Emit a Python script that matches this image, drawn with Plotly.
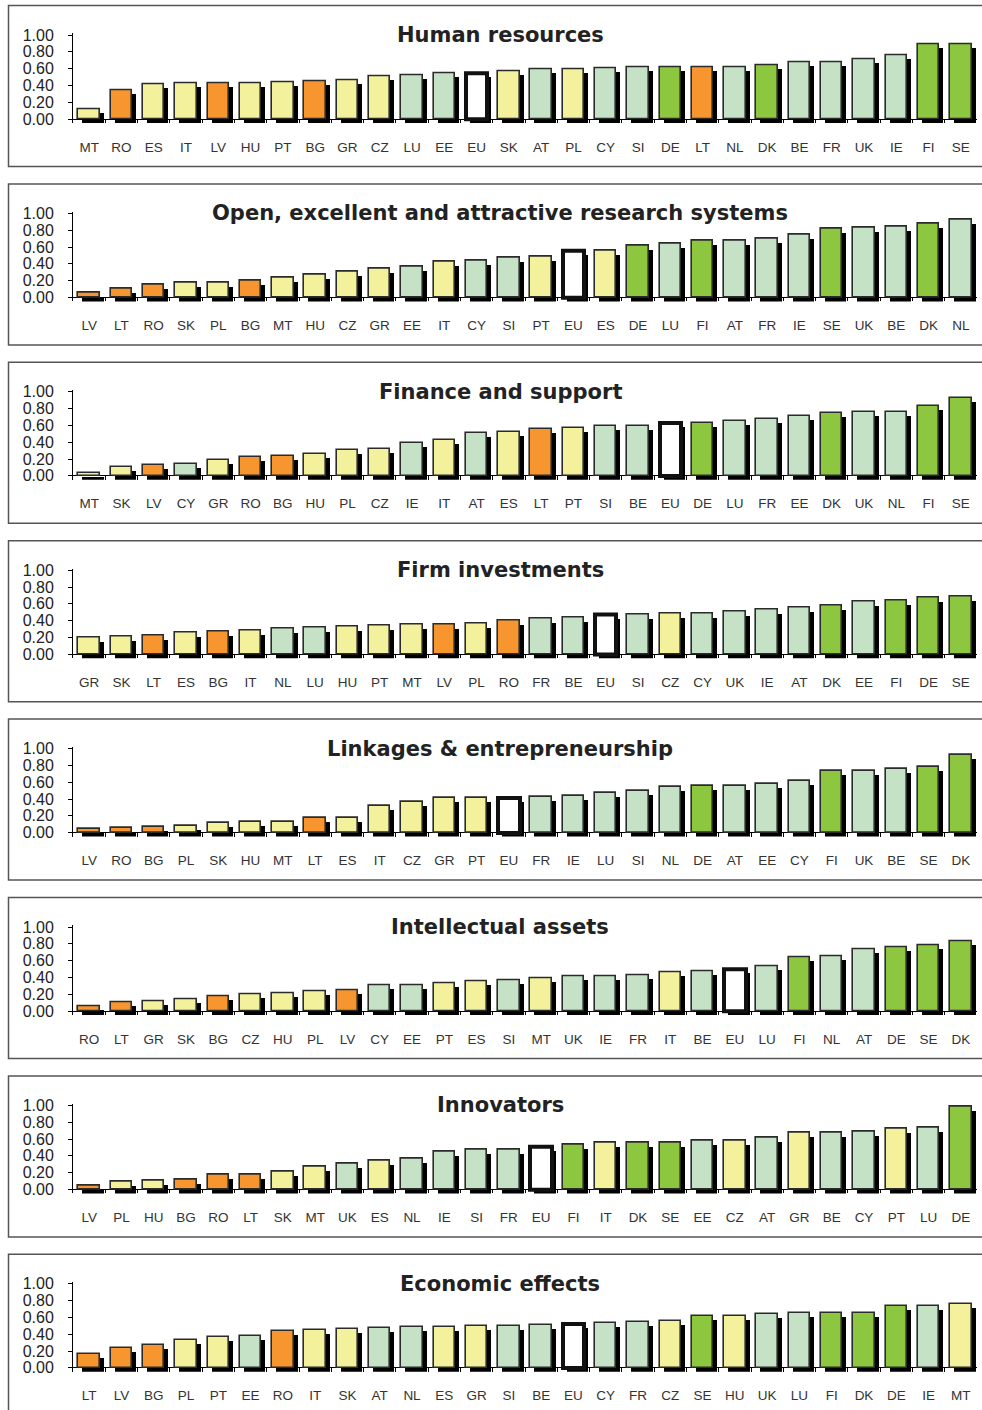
import plotly.graph_objects as go

W, H = 982, 1410

# Colour groups (country performance groups)
DG, LG, YE, OR, EUW = "#8DC63F", "#C6E2C6", "#F3F19B", "#F7962F", "#FFFFFF"
group_of = {
    "SE": DG, "FI": DG, "DK": DG, "DE": DG,
    "UK": LG, "IE": LG, "FR": LG, "BE": LG, "NL": LG, "SI": LG, "CY": LG,
    "AT": LG, "EE": LG, "LU": LG,
    "SK": YE, "CZ": YE, "GR": YE, "PT": YE, "HU": YE, "IT": YE, "ES": YE,
    "MT": YE, "PL": YE,
    "RO": OR, "LV": OR, "BG": OR, "LT": OR,
    "EU": EUW,
}

titles = [
    "Human resources",
    "Open, excellent and attractive research systems",
    "Finance and support",
    "Firm investments",
    "Linkages & entrepreneurship",
    "Intellectual assets",
    "Innovators",
    "Economic effects",
]

hr_cats = ["MT", "RO", "ES", "IT", "LV", "HU", "PT", "BG", "GR", "CZ", "LU", "EE", "EU", "SK",
           "AT", "PL", "CY", "SI", "DE", "LT", "NL", "DK", "BE", "FR", "UK", "IE", "FI", "SE"]
hr_vals = [0.11, 0.34, 0.41, 0.43, 0.43, 0.43, 0.44, 0.45, 0.46, 0.51, 0.52, 0.54, 0.54, 0.57,
           0.59, 0.59, 0.60, 0.61, 0.61, 0.62, 0.62, 0.64, 0.67, 0.68, 0.71, 0.76, 0.89, 0.89]

rs_cats = ["LV", "LT", "RO", "SK", "PL", "BG", "MT", "HU", "CZ", "GR", "EE", "IT", "CY", "SI",
           "PT", "EU", "ES", "DE", "LU", "FI", "AT", "FR", "IE", "SE", "UK", "BE", "DK", "NL"]
rs_vals = [0.05, 0.10, 0.15, 0.17, 0.18, 0.20, 0.24, 0.27, 0.30, 0.34, 0.36, 0.42, 0.44, 0.47,
           0.48, 0.55, 0.56, 0.61, 0.64, 0.67, 0.68, 0.70, 0.75, 0.82, 0.83, 0.84, 0.88, 0.93]

fs_cats = ["MT", "SK", "LV", "CY", "GR", "RO", "BG", "HU", "PL", "CZ", "IE", "IT", "AT", "ES",
           "LT", "PT", "SI", "BE", "EU", "DE", "LU", "FR", "EE", "DK", "UK", "NL", "FI", "SE"]
fs_vals = [0.03, 0.10, 0.13, 0.14, 0.19, 0.22, 0.23, 0.26, 0.30, 0.32, 0.39, 0.42, 0.51, 0.52,
           0.56, 0.57, 0.59, 0.59, 0.63, 0.63, 0.65, 0.68, 0.71, 0.75, 0.76, 0.76, 0.83, 0.93]

fi_cats = ["GR", "SK", "LT", "ES", "BG", "IT", "NL", "LU", "HU", "PT", "MT", "LV", "PL", "RO",
           "FR", "BE", "EU", "SI", "CZ", "CY", "UK", "IE", "AT", "DK", "EE", "FI", "DE", "SE"]
fi_vals = [0.20, 0.21, 0.22, 0.26, 0.27, 0.28, 0.31, 0.32, 0.33, 0.34, 0.35, 0.35, 0.36, 0.40,
           0.42, 0.44, 0.47, 0.47, 0.48, 0.49, 0.51, 0.53, 0.55, 0.58, 0.63, 0.64, 0.67, 0.69]

le_cats = ["LV", "RO", "BG", "PL", "SK", "HU", "MT", "LT", "ES", "IT", "CZ", "GR", "PT", "EU",
           "FR", "IE", "LU", "SI", "NL", "DE", "AT", "EE", "CY", "FI", "UK", "BE", "SE", "DK"]
le_vals = [0.04, 0.05, 0.07, 0.08, 0.11, 0.13, 0.13, 0.17, 0.18, 0.32, 0.37, 0.41, 0.41, 0.41,
           0.43, 0.44, 0.47, 0.50, 0.54, 0.56, 0.56, 0.58, 0.61, 0.74, 0.74, 0.76, 0.78, 0.92]

ia_cats = ["RO", "LT", "GR", "SK", "BG", "CZ", "HU", "PL", "LV", "CY", "EE", "PT", "ES", "SI",
           "MT", "UK", "IE", "FR", "IT", "BE", "EU", "LU", "FI", "NL", "AT", "DE", "SE", "DK"]
ia_vals = [0.05, 0.10, 0.11, 0.14, 0.17, 0.20, 0.21, 0.23, 0.25, 0.31, 0.31, 0.33, 0.35, 0.36,
           0.39, 0.41, 0.41, 0.42, 0.46, 0.47, 0.50, 0.53, 0.64, 0.65, 0.74, 0.76, 0.78, 0.83]

in_cats = ["LV", "PL", "HU", "BG", "RO", "LT", "SK", "MT", "UK", "ES", "NL", "IE", "SI", "FR",
           "EU", "FI", "IT", "DK", "SE", "EE", "CZ", "AT", "GR", "BE", "CY", "PT", "LU", "DE"]
in_vals = [0.04, 0.09, 0.10, 0.12, 0.17, 0.17, 0.21, 0.27, 0.31, 0.34, 0.37, 0.45, 0.47, 0.47,
           0.51, 0.53, 0.56, 0.56, 0.56, 0.58, 0.58, 0.61, 0.67, 0.68, 0.69, 0.72, 0.74, 0.99]

ee_cats = ["LT", "LV", "BG", "PL", "PT", "EE", "RO", "IT", "SK", "AT", "NL", "ES", "GR", "SI",
           "BE", "EU", "CY", "FR", "CZ", "SE", "HU", "UK", "LU", "FI", "DK", "DE", "IE", "MT"]
ee_vals = [0.16, 0.24, 0.27, 0.33, 0.37, 0.38, 0.44, 0.45, 0.46, 0.47, 0.48, 0.49, 0.50, 0.50,
           0.51, 0.52, 0.53, 0.54, 0.55, 0.61, 0.62, 0.64, 0.65, 0.65, 0.65, 0.73, 0.74, 0.76]

panels = [
    (titles[0], hr_cats, hr_vals),
    (titles[1], rs_cats, rs_vals),
    (titles[2], fs_cats, fs_vals),
    (titles[3], fi_cats, fi_vals),
    (titles[4], le_cats, le_vals),
    (titles[5], ia_cats, ia_vals),
    (titles[6], in_cats, in_vals),
    (titles[7], ee_cats, ee_vals),
]

# layout geometry (pixels)
PITCH = 178.4
ZERO0 = 119.0          # zero line of first panel
PX_PER_UNIT = 84.0
YMAX = 1.02
SH_Y = 4.0 / PX_PER_UNIT   # shadow drop in data units
X0, X1 = 73.0, 977.0
CAT_W = (X1 - X0) / 28
SH_X = 4.0 / CAT_W         # shadow shift in category units
BW = 0.66

def py(pix):
    return 1 - pix / H

fig = go.Figure()
layout = dict(
    width=W, height=H,
    margin=dict(l=0, r=0, t=0, b=0, pad=0, autoexpand=False),
    paper_bgcolor="white", plot_bgcolor="white",
    barmode="overlay", showlegend=False, bargap=0,
)
shapes, annotations = [], []

for i, (title, cats, vals) in enumerate(panels):
    sfx = "" if i == 0 else str(i + 1)
    zero = ZERO0 + PITCH * i
    top = zero - YMAX * PX_PER_UNIT
    bot = zero + SH_Y * PX_PER_UNIT

    fills = [group_of[c] for c in cats]
    lw = [4.0 if c == "EU" else 1.6 for c in cats]
    lc = ["#111111" if c == "EU" else "#2b2b2b" for c in cats]

    fig.add_trace(go.Bar(
        x=cats, y=vals, base=-SH_Y, width=BW, offset=-BW / 2 + SH_X,
        marker=dict(color="#000000", line=dict(width=0)),
        xaxis="x" + sfx, yaxis="y" + sfx, hoverinfo="skip",
    ))
    fig.add_trace(go.Bar(
        x=cats, y=vals, width=BW, offset=-BW / 2,
        marker=dict(color=fills, line=dict(color=lc, width=lw)),
        xaxis="x" + sfx, yaxis="y" + sfx,
    ))

    layout["xaxis" + sfx] = dict(
        domain=[X0 / W, X1 / W], anchor="y" + sfx, automargin=False,
        type="category", categoryorder="array", categoryarray=cats,
        showline=False, showgrid=False, zeroline=False,
        ticks="inside", tickson="boundaries", ticklen=4, tickwidth=1,
        tickcolor="#000000",
        tickfont=dict(family="Liberation Sans, Arial", size=13.5, color="#333333"),
        ticklabelstandoff=14, fixedrange=True,
    )
    layout["yaxis" + sfx] = dict(
        domain=[py(bot), py(top)], anchor="x" + sfx, automargin=False,
        range=[-SH_Y, YMAX],
        tickvals=[0, 0.2, 0.4, 0.6, 0.8, 1.0],
        ticktext=["0.00", "0.20", "0.40", "0.60", "0.80", "1.00"],
        showline=True, linecolor="#000000", linewidth=1,
        ticks="outside", ticklen=4, tickcolor="#000000",
        showgrid=False, zeroline=True, zerolinecolor="#000000", zerolinewidth=1.2,
        tickfont=dict(family="Liberation Sans, Arial", size=16, color="#222222"),
        ticklabelstandoff=11, fixedrange=True,
    )

    shapes.append(dict(
        type="rect", xref="paper", yref="paper",
        x0=8.5 / W, x1=1.02,
        y0=py(5.5 + PITCH * i + 161), y1=py(5.5 + PITCH * i),
        line=dict(color="#555555", width=1.5), fillcolor="rgba(0,0,0,0)",
        layer="below",
    ))
    annotations.append(dict(
        text=title, xref="paper", yref="paper",
        x=500 / W, y=py(35 + PITCH * i), xanchor="center", yanchor="middle",
        showarrow=False,
        font=dict(family="Verdana, DejaVu Sans", size=21, color="#222222", weight="bold"),
    ))

layout["shapes"] = shapes
layout["annotations"] = annotations
fig.update_layout(**layout)
fig.write_html("out.html")
